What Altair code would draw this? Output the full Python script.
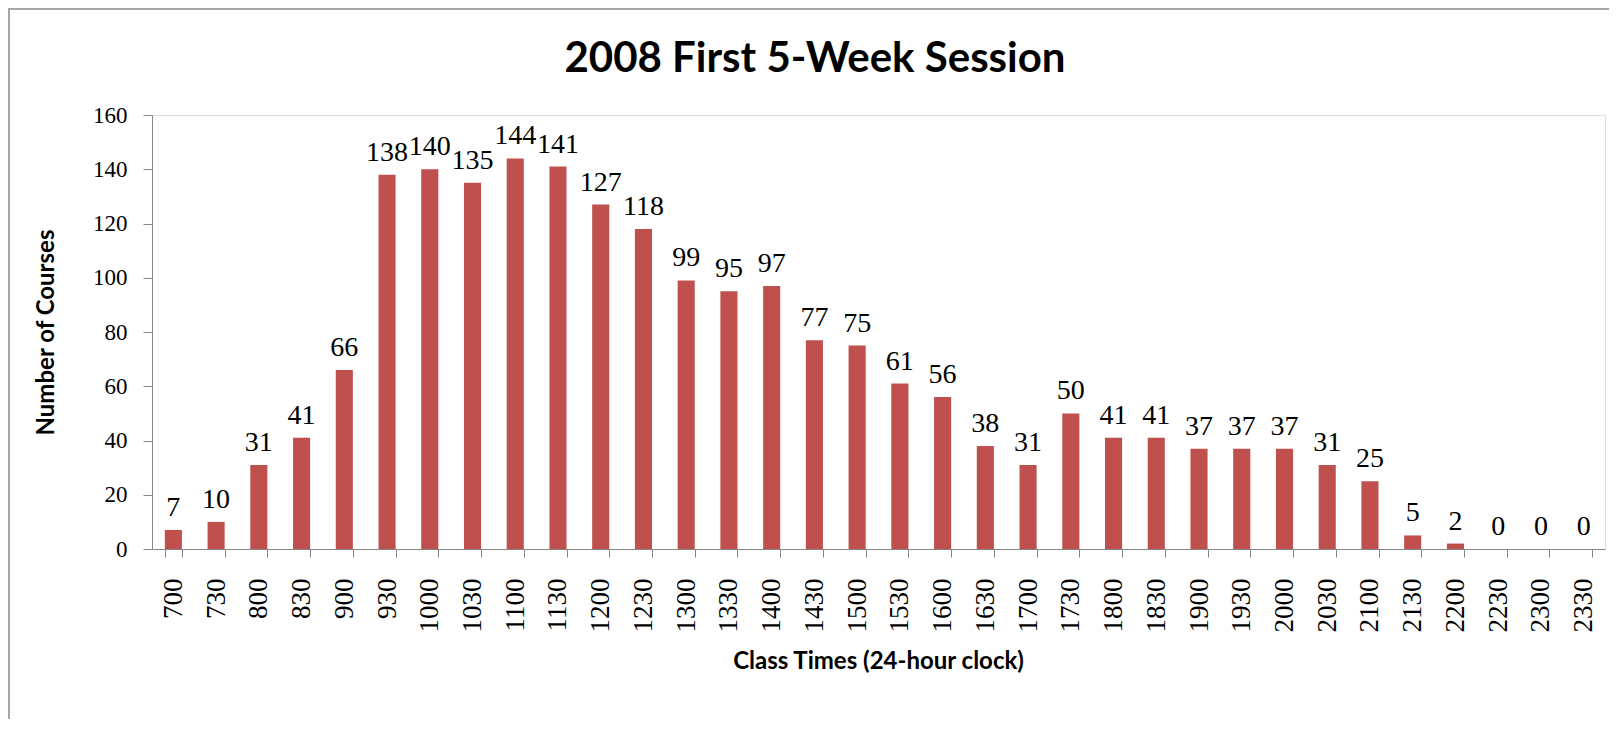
import altair as alt
import pandas as pd

times = ["700", "730", "800", "830", "900", "930", "1000", "1030", "1100", "1130",
         "1200", "1230", "1300", "1330", "1400", "1430", "1500", "1530", "1600", "1630",
         "1700", "1730", "1800", "1830", "1900", "1930", "2000", "2030", "2100", "2130",
         "2200", "2230", "2300", "2330"]
courses = [7, 10, 31, 41, 66, 138, 140, 135, 144, 141,
           127, 118, 99, 95, 97, 77, 75, 61, 56, 38,
           31, 50, 41, 41, 37, 37, 37, 31, 25, 5,
           2, 0, 0, 0]
y_ticks = [0, 20, 40, 60, 80, 100, 120, 140, 160]
chart_title = "2008 First 5-Week Session"

df = pd.DataFrame({"time": times, "courses": courses})

AXIS_GRAY = "#868686"
SERIF = "Liberation Serif"
SANS = "Lato"

x_enc = alt.X(
    "time:N",
    sort=times,
    scale=alt.Scale(paddingInner=0.6, paddingOuter=0.3),
    axis=alt.Axis(
        title="Class Times (24-hour clock)",
        labelAngle=270,
        labelAlign="right",
        labelBaseline="middle",
        labelFont=SERIF,
        labelFontSize=27,
        labelColor="#000000",
        labelPadding=21,
        tickBand="extent",
        tickSize=8,
        tickColor=AXIS_GRAY,
        domainColor=AXIS_GRAY,
        titleFont=SANS,
        titleFontSize=24,
        titleFontWeight="bold",
        titleColor="#000000",
        titleX=726,
        titleY=119,
        titleAlign="center",
        titleBaseline="alphabetic",
    ),
)

y_enc = alt.Y(
    "courses:Q",
    scale=alt.Scale(domain=[0, 160], nice=False),
    axis=alt.Axis(
        title="Number of Courses",
        values=y_ticks,
        grid=False,
        labelFont=SERIF,
        labelFontSize=23,
        labelColor="#000000",
        labelPadding=16,
        tickSize=9,
        tickColor=AXIS_GRAY,
        domainColor=AXIS_GRAY,
        titleFont=SANS,
        titleFontSize=24,
        titleFontWeight="bold",
        titleColor="#000000",
        titleAngle=270,
        titleX=-106,
        titleY=217,
        titleAlign="center",
        titleBaseline="middle",
    ),
)

base = alt.Chart(df)

bars = base.mark_bar(color="#C0504D").encode(x=x_enc, y=y_enc)

labels = base.mark_text(
    baseline="alphabetic",
    dy=-14,
    font=SERIF,
    fontSize=28,
    color="#000000",
).encode(
    x=alt.X("time:N", sort=times),
    y=alt.Y("courses:Q"),
    text=alt.Text("courses:Q"),
)

frame = alt.Chart(alt.Data(values=[{}])).mark_rect(
    fill=None, stroke="#A6A6A6", strokeWidth=2
).encode(
    x=alt.value(-143), x2=alt.value(1600),
    y=alt.value(-106), y2=alt.value(700),
)

title_mark = alt.Chart(alt.Data(values=[{"t": chart_title}])).mark_text(
    font=SANS, fontSize=42, fontWeight="bold", color="#000000",
    align="center", baseline="alphabetic",
).encode(
    x=alt.value(663), y=alt.value(-43), text="t:N",
)

chart = alt.layer(frame, bars, labels, title_mark).properties(
    width=1453,
    height=434,
    autosize=alt.AutoSizeParams(type="none"),
    padding={"left": 144, "top": 107, "right": 4, "bottom": 170},
).configure_view(stroke=None).configure(background="#FFFFFF")

chart.save("out.html", embed_options={"renderer": "svg", "actions": False})
